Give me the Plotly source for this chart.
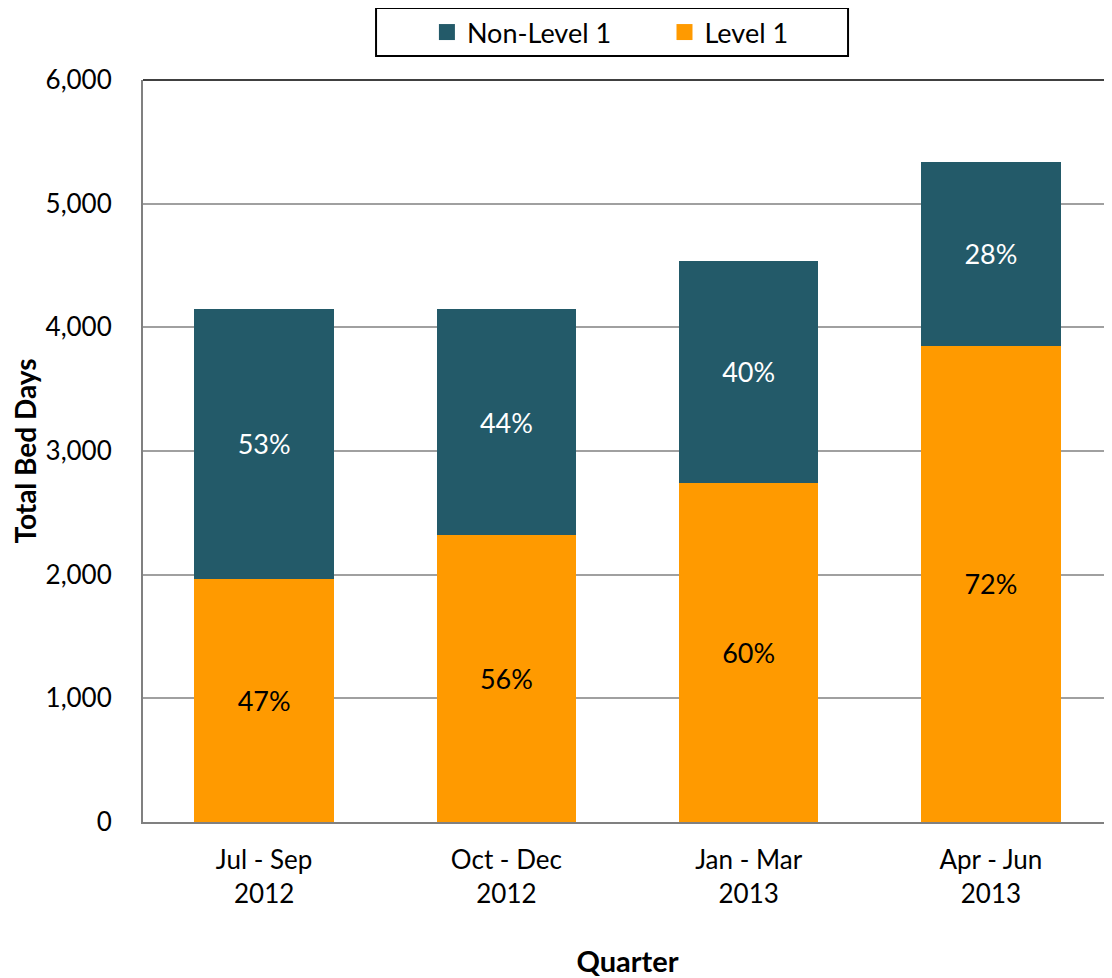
import plotly.graph_objects as go

quarters = ["Jul - Sep<br>2012", "Oct - Dec<br>2012", "Jan - Mar<br>2013", "Apr - Jun<br>2013"]
level1 = [1963, 2318, 2738, 3853]
non_level1 = [2189, 1832, 1802, 1486]

totals = [a + b for a, b in zip(level1, non_level1)]
l1_text = [f"{round(a / t * 100)}%" for a, t in zip(level1, totals)]
nl1_text = [f"{round(b / t * 100)}%" for b, t in zip(non_level1, totals)]

FONT = "Lato, Open Sans, sans-serif"
NB = "\u00a0"
C_L1 = "#FF9A00"
C_NL1 = "#235A69"

fig = go.Figure()
fig.add_trace(go.Bar(
    x=quarters, y=level1, name="Level 1", showlegend=False,
    marker=dict(color=C_L1, line=dict(width=0)),
    text=l1_text, textposition="inside", insidetextanchor="middle",
    textfont=dict(color="black", size=27, family=FONT),
))
fig.add_trace(go.Bar(
    x=quarters, y=non_level1, name="Non-Level 1", showlegend=False,
    marker=dict(color=C_NL1, line=dict(width=0)),
    text=nl1_text, textposition="inside", insidetextanchor="middle",
    textfont=dict(color="white", size=27, family=FONT),
))
# legend entries (square swatches)
fig.add_trace(go.Scatter(x=[None], y=[None], mode="markers", name="Non-Level 1" + NB * 7,
                         marker=dict(symbol="square", size=18, color=C_NL1)))
fig.add_trace(go.Scatter(x=[None], y=[None], mode="markers", name="Level 1",
                         marker=dict(symbol="square", size=18, color=C_L1)))

fig.update_layout(
    barmode="stack",
    bargap=0.424,
    width=1104, height=970,
    margin=dict(l=135, r=0, t=71, b=156),
    paper_bgcolor="white", plot_bgcolor="white",
    font=dict(family=FONT, size=26, color="black"),
    legend=dict(
        orientation="h", traceorder="normal",
        x=0.293, xanchor="left", y=1.0646, yanchor="middle",
        borderwidth=0, bgcolor="rgba(0,0,0,0)",
        font=dict(size=27, family=FONT),
        itemwidth=30, itemsizing="trace",
    ),
    xaxis=dict(
        showline=True, linecolor="#808080", linewidth=2,
        ticks="", tickfont=dict(size=26), ticklabelstandoff=14,
        title=dict(text="<b>Quarter</b>", font=dict(size=29), standoff=46),
    ),
    yaxis=dict(
        range=[0, 6000], dtick=1000, tickformat=",",
        showline=True, linecolor="#808080", linewidth=2,
        showgrid=True, gridcolor="#A0A0A0", gridwidth=1.5,
        ticks="", tickfont=dict(size=26), ticklabelstandoff=24,
        title=dict(text="<b>Total Bed Days</b>", font=dict(size=28), standoff=6),
        zeroline=False,
    ),
)
# top border of plot area
fig.add_shape(type="line", xref="paper", yref="paper", x0=0, x1=1, y0=1, y1=1,
              line=dict(color="#404040", width=2))
# legend frame
fig.add_shape(type="rect", xref="paper", yref="paper",
              x0=0.2405, x1=0.7276, y0=1.0323, y1=1.0969,
              line=dict(color="black", width=2), fillcolor="rgba(0,0,0,0)")

fig.write_html("out.html")
